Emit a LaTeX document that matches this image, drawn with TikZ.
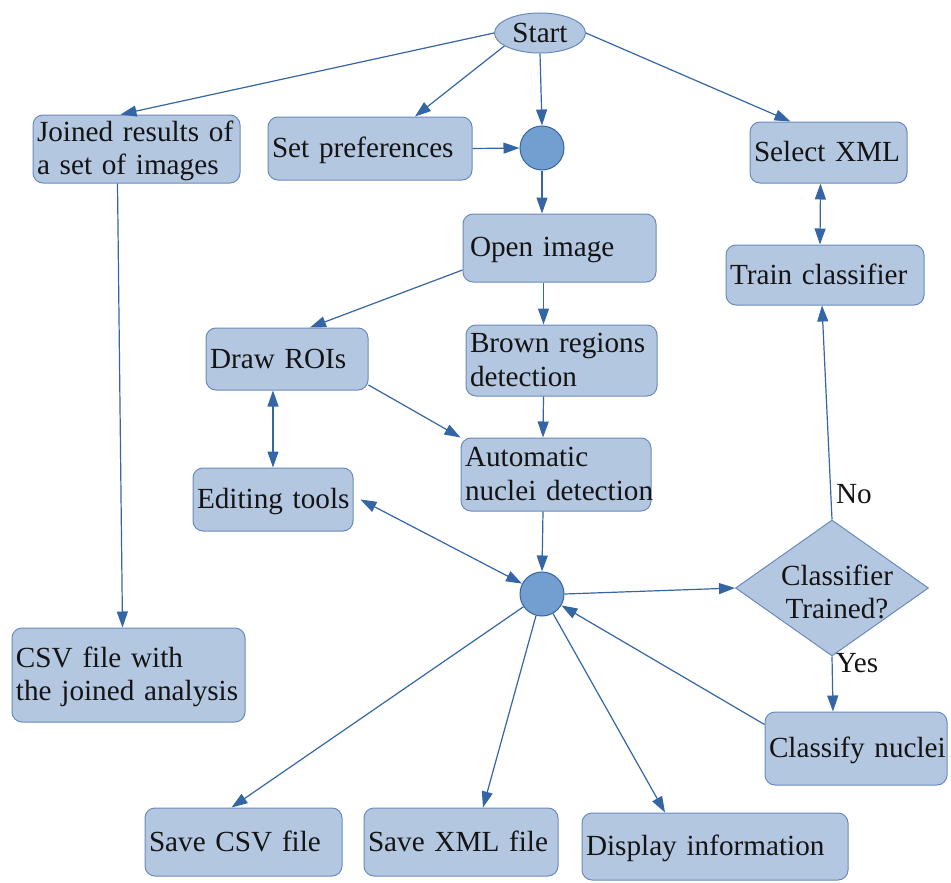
\documentclass[tikz,border=0pt]{standalone}
\usepackage{fontspec}
\setmainfont{Liberation Serif}
\usetikzlibrary{shapes.geometric,arrows.meta}
\definecolor{boxfill}{RGB}{180,199,225}
\definecolor{boxline}{RGB}{105,138,190}
\definecolor{circfill}{RGB}{114,159,207}
\definecolor{arrcol}{RGB}{52,101,164}
\definecolor{txt}{RGB}{20,20,20}
\newcommand\bxl[1]{\mbox{\rule[-6pt]{0pt}{30pt}#1}}
\tikzset{
  box/.style={draw=boxline, line width=1pt, fill=boxfill, rounded corners=10pt, align=left,
    inner xsep=4pt, inner ysep=0pt, text=txt, font=\fontsize{29.2}{33.5}\selectfont},
  dot/.style={circle, draw=arrcol, line width=1pt, fill=circfill, minimum size=44pt, inner sep=0pt},
  conn/.style={draw=arrcol, line width=1.2pt, -{Triangle[length=16pt,width=11pt]}},
  dconn/.style={draw=arrcol, line width=1.2pt, {Triangle[length=16pt,width=11pt]}-{Triangle[length=16pt,width=11pt]}},
  lbl/.style={text=txt, font=\fontsize{29.2}{33.5}\selectfont, inner sep=0pt}
}
\begin{document}
\begin{tikzpicture}[x=1pt,y=-1pt]
\useasboundingbox (0,0) rectangle (951,883);
% nodes
\node[ellipse, draw=boxline, line width=1pt, fill=boxfill, minimum width=91pt, minimum height=40pt, inner sep=0pt, lbl] (start) at (540,33) {Start};
\node[box, text width=199pt, minimum height=68pt] (joined) at (136.5,149) {\bxl{Joined results of}\\\bxl{a set of images}};
\node[box, text width=196pt, minimum height=63pt] (setpref) at (370,148.5) {\bxl{Set preferences}};
\node[dot] (c1) at (542,148) {};
\node[box, text width=149pt, minimum height=61pt] (selxml) at (828.5,152.5) {\bxl{Select XML}};
\node[box, minimum height=68pt, inner xsep=7pt, text width=179pt] (open) at (559.5,248) {\bxl{Open image}};
\node[box, text width=190pt, minimum height=60pt] (train) at (825,275) {\bxl{Train classifier}};
\node[box, text width=154pt, minimum height=62pt] (draw) at (287,359) {\bxl{Draw ROIs}};
\node[box, text width=183pt, minimum height=71pt] (brown) at (561.5,360.5) {\bxl{Brown regions}\\\bxl{detection}};
\node[box, text width=182pt, minimum height=73pt] (auto) at (556,474.5) {\bxl{Automatic}\\\bxl{nuclei detection}};
\node[box, text width=152pt, minimum height=63pt] (edit) at (273,499.5) {\bxl{Editing tools}};
\node[dot] (c2) at (542,594) {};
\node[diamond, draw=boxline, line width=1pt, fill=boxfill, minimum width=193pt, minimum height=136pt, inner sep=0pt] (dia) at (832,588) {};
\node[lbl, align=center] (diatext) at (837,593) {\bxl{Classifier}\\\bxl{Trained?}};
\node[box, text width=225pt, minimum height=94pt] (csv) at (128.5,675) {\bxl{CSV file with}\\\bxl{the joined analysis}};
\node[box, text width=174pt, minimum height=73pt] (classify) at (856,748.5) {\bxl{Classify nuclei}};
\node[box, text width=189pt, minimum height=68pt] (savecsv) at (243.5,842) {\bxl{Save CSV file}};
\node[box, text width=186pt, minimum height=68pt] (savexml) at (461,842) {\bxl{Save XML file}};
\node[box, text width=258pt, minimum height=67pt] (display) at (715,846.5) {\bxl{Display information}};
\node[lbl] (nolbl) at (854,494) {No};
\node[lbl] (yeslbl) at (857,663) {Yes};
% connectors
\draw[conn] (start.west) -- ([xshift=-16pt]joined.north);
\draw[conn] (start.200) -- ([xshift=45pt]setpref.north);
\draw[conn] (start.south) -- (c1.north);
\draw[conn] (start.east) -- ([xshift=-38pt]selxml.north);
\draw[conn] (setpref.east) -- (c1.west);
\draw[conn] (c1.south) -- (c1.south |- open.north);
\draw[conn] ([xshift=-19pt]joined.south) -- ([xshift=-6pt]csv.north);
\draw[dconn] ([xshift=-8pt]selxml.south) -- ([xshift=-5pt]train.north);
\draw[conn] ([yshift=-22pt]open.west) -- ([xshift=23pt]draw.north);
\draw[conn] ([xshift=-16pt]open.south) -- ([xshift=-18pt]brown.north);
\draw[conn] ([xshift=-18pt]brown.south) -- ([xshift=-13pt]auto.north);
\draw[conn] ([yshift=-26pt]draw.east) -- (auto.north west);
\draw[dconn] ([xshift=-14pt]draw.south) -- (edit.north);
\draw[dconn] ([xshift=7pt]edit.east) -- (c2);
\draw[conn] ([xshift=-13pt]auto.south) -- (c2.north);
\draw[conn] (c2.east) -- (dia.west);
\draw[conn] (dia.north) -- ([xshift=-3pt]train.south);
\draw[conn] (dia.south) -- ([xshift=-23pt]classify.north);
\draw[conn] ([yshift=24pt]classify.west) -- (c2);
\draw[conn] (c2) -- ([xshift=-12pt]savecsv.north);
\draw[conn] (c2) -- ([xshift=22pt]savexml.north);
\draw[conn] (c2) -- ([xshift=-50pt]display.north);
\end{tikzpicture}
\end{document}
